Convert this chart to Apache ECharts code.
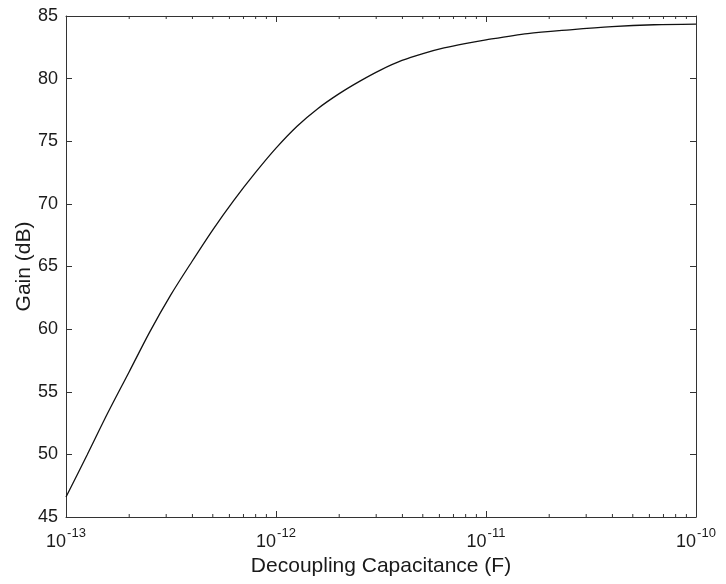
<!DOCTYPE html>
<html>
<head>
<meta charset="utf-8">
<script src="https://cdn.jsdelivr.net/npm/echarts@6/dist/echarts.min.js"></script>
<style>html,body{margin:0;padding:0;background:#fff;}#chart{width:726px;height:584px;}</style>
</head>
<body>
<div id="chart"></div>
<script>
// Data
var capacitance = [1.00e-13, 1.26e-13, 1.58e-13, 2.00e-13, 2.51e-13, 3.16e-13, 3.98e-13, 5.01e-13, 6.31e-13, 7.94e-13,
                   1.00e-12, 1.26e-12, 1.58e-12, 2.00e-12, 2.51e-12, 3.16e-12, 3.98e-12, 5.01e-12, 6.31e-12, 7.94e-12,
                   1.00e-11, 1.58e-11, 2.51e-11, 3.98e-11, 6.31e-11, 1.00e-10];
var gain = [46.6, 49.95, 53.3, 56.6, 59.8, 62.75, 65.4, 67.95, 70.3, 72.45,
            74.45, 76.2, 77.6, 78.8, 79.8, 80.7, 81.45, 82.0, 82.45, 82.8,
            83.1, 83.6, 83.9, 84.15, 84.3, 84.35];
var xMin = 1e-13, xMax = 1e-10;
var yMin = 45, yMax = 85, yStep = 5;
var minorTickMantissas = [2, 3, 4, 5, 6, 7, 8, 9];
var decades = [1e-13, 1e-12, 1e-11];
var xTitle = 'Decoupling Capacitance (F)';
var yTitle = 'Gain (dB)';

var minorTicks = [];
decades.forEach(function (d) { minorTickMantissas.forEach(function (m) { minorTicks.push(m * d); }); });

var FONT = 'Liberation Sans, Arial, Helvetica, sans-serif';
var INK = '#1a1a1a';

function expLabel(v) {
  var e = Math.round(Math.log10(v));
  return '{b|10}{s|' + e + '}';
}

var axisLineStyle = { color: '#333', width: 1 };

var chart = echarts.init(document.getElementById('chart'), null, { renderer: 'canvas' });
chart.setOption({
  animation: false,
  backgroundColor: '#fff',
  grid: { left: 66, right: 30, top: 16, bottom: 67, show: false, containLabel: false, outerBoundsMode: 'none' },
  xAxis: [{
    type: 'log', logBase: 10, min: xMin, max: xMax,
    position: 'bottom',
    name: xTitle, nameLocation: 'middle', nameGap: 39, nameMoveOverlap: false,
    nameTextStyle: { fontFamily: FONT, fontSize: 21, color: INK },
    axisLine: { show: true, lineStyle: axisLineStyle },
    axisTick: { show: true, inside: true, length: 6, lineStyle: axisLineStyle },
    splitLine: { show: false },
    minorTick: { show: false },
    axisLabel: {
      margin: 16, formatter: expLabel, color: INK,
      rich: {
        b: { fontFamily: FONT, fontSize: 18, color: INK, verticalAlign: 'bottom', lineHeight: 18 },
        s: { fontFamily: FONT, fontSize: 13, color: INK, verticalAlign: 'bottom', lineHeight: 13, padding: [0, 0, 11, 1] }
      }
    }
  }, {
    type: 'log', logBase: 10, min: xMin, max: xMax,
    position: 'top',
    axisLine: { show: true, lineStyle: axisLineStyle },
    axisTick: { show: true, inside: true, length: 6, lineStyle: axisLineStyle },
    splitLine: { show: false },
    axisLabel: { show: false }
  }],
  yAxis: [{
    type: 'value', min: yMin, max: yMax, interval: yStep,
    position: 'left',
    name: yTitle, nameLocation: 'middle', nameGap: 31, nameRotate: 90, nameMoveOverlap: false,
    nameTextStyle: { fontFamily: FONT, fontSize: 21, color: INK },
    axisLine: { show: true, lineStyle: axisLineStyle },
    axisTick: { show: true, inside: true, length: 6, lineStyle: axisLineStyle },
    splitLine: { show: false },
    axisLabel: { margin: 8, fontFamily: FONT, fontSize: 18, color: INK }
  }, {
    type: 'value', min: yMin, max: yMax, interval: yStep,
    position: 'right',
    axisLine: { show: true, lineStyle: axisLineStyle },
    axisTick: { show: true, inside: true, length: 6, lineStyle: axisLineStyle },
    splitLine: { show: false },
    axisLabel: { show: false }
  }],
  series: [{
    type: 'line',
    xAxisIndex: 0, yAxisIndex: 0,
    data: capacitance.map(function (c, i) { return [c, gain[i]]; }),
    smooth: 0.3,
    showSymbol: false,
    lineStyle: { color: '#111', width: 1.3 },
    z: 5
  }, {
    type: 'custom',
    xAxisIndex: 0, yAxisIndex: 0,
    data: minorTicks.map(function (t) { return [t]; }),
    renderItem: function (params, api) {
      var bot = api.coord([api.value(0), yMin]);
      var top = api.coord([api.value(0), yMax]);
      var st = { stroke: '#333', lineWidth: 1 };
      return {
        type: 'group',
        children: [
          { type: 'line', shape: { x1: bot[0], y1: bot[1], x2: bot[0], y2: bot[1] - 3 }, style: st },
          { type: 'line', shape: { x1: top[0], y1: top[1], x2: top[0], y2: top[1] + 3 }, style: st }
        ]
      };
    },
    silent: true,
    z: 4
  }]
});
</script>
</body>
</html>
